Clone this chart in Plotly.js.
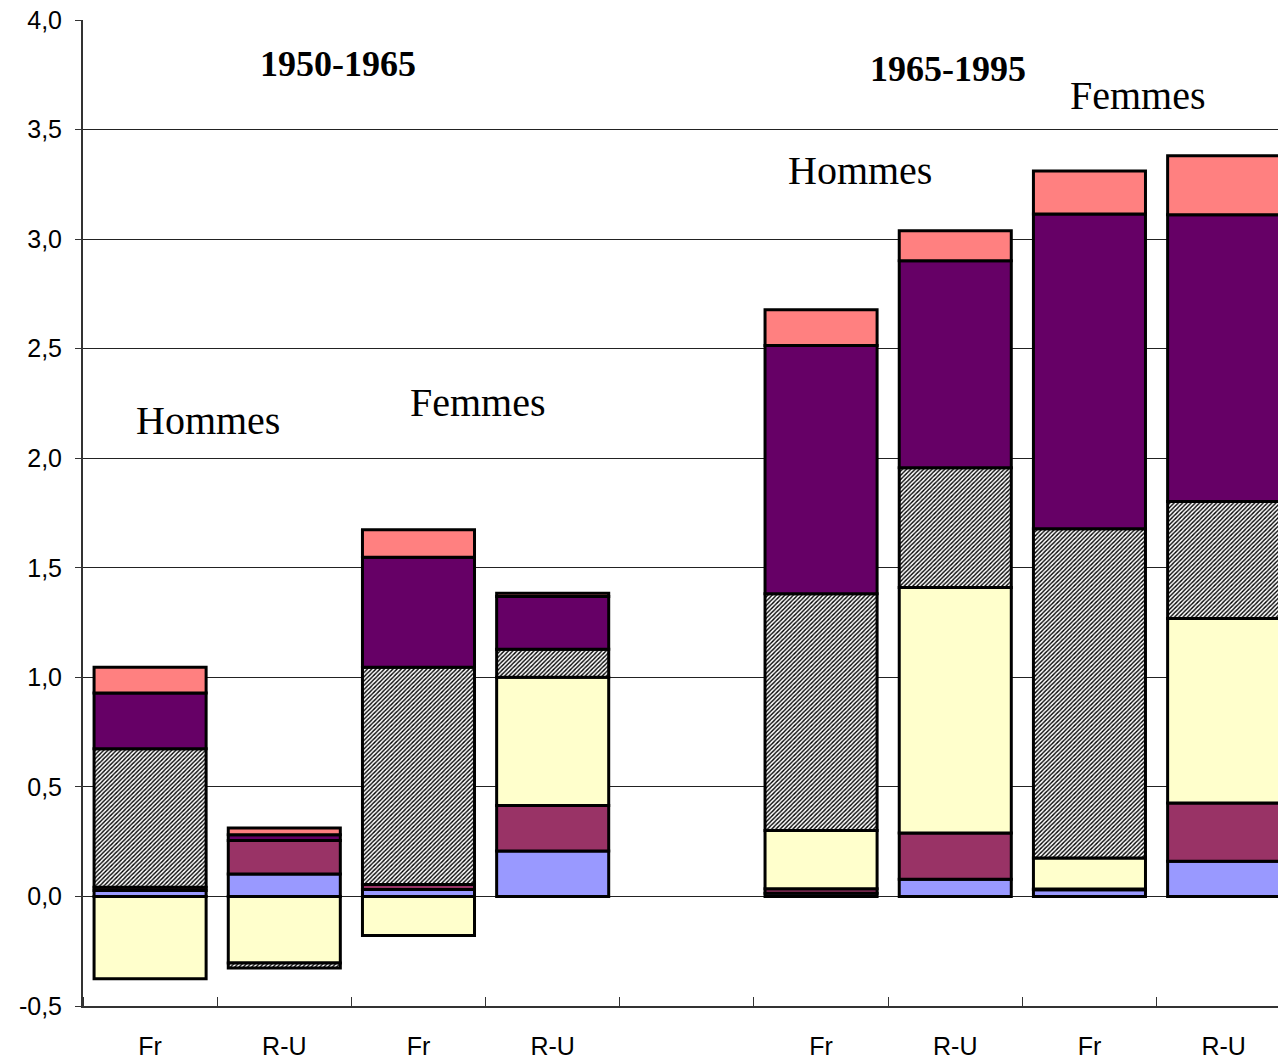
<!DOCTYPE html>
<html><head><meta charset="utf-8">
<script src="https://cdn.plot.ly/plotly-3.0.1.min.js"></script>
<style>html,body{margin:0;padding:0;background:#fff;overflow:hidden}</style>
</head><body>
<div id="chart" style="width:1278px;height:1060px"></div>
<script>
// Category slots (slot 4 is the empty gap between periods)
const slots = [0, 1, 2, 3, 5, 6, 7, 8];
const tickLabels = ["Fr", "R-U", "Fr", "R-U", "", "Fr", "R-U", "Fr", "R-U"];
const yTickVals = [-0.5, 0, 0.5, 1, 1.5, 2, 2.5, 3, 3.5, 4];
const yTickLabels = ["-0,5", "0,0", "0,5", "1,0", "1,5", "2,0", "2,5", "3,0", "3,5", "4,0"];
// Series values, one per bar: 1950-65 Hommes Fr, R-U, Femmes Fr, R-U; 1965-95 Hommes Fr, R-U, Femmes Fr, R-U
const blue    = [0.027, 0.103, 0.032, 0.207, 0.015, 0.078, 0.030, 0.161];
const maroon  = [0.015, 0.152, 0.023, 0.208, 0.020, 0.211, 0.004, 0.266];
const yellow  = [-0.376, -0.304, -0.178, 0.585, 0.266, 1.121, 0.142, 0.841];
const hatched = [0.632, -0.023, 0.991, 0.128, 1.081, 0.547, 1.502, 0.534];
const purple  = [0.255, 0.026, 0.502, 0.241, 1.132, 0.944, 1.437, 1.309];
const pink    = [0.117, 0.031, 0.126, 0.015, 0.164, 0.137, 0.196, 0.269];

const lineStyle = {color: '#000', width: 3};
function bar(y, color, extra) {
  const m = Object.assign({color: color, line: lineStyle}, extra || {});
  return {type: 'bar', x: slots, y: y, width: 0.835, marker: m, hoverinfo: 'y', showlegend: false};
}
const traces = [
  bar(blue, '#9999FF'),
  bar(maroon, '#993366'),
  bar(yellow, '#FFFFCC'),
  bar(hatched, '#FFFFFF', {pattern: {shape: '/', fgcolor: '#000', bgcolor: '#FFFFFF', size: 3, solidity: 0.45, fillmode: 'replace'}}),
  bar(purple, '#660066'),
  bar(pink, '#FF8080')
];

const serif = 'Liberation Serif, Times New Roman, serif';
const annText = [
  {t: '<b>1950-1965</b>', x: 1.40, y: 3.80, s: 36},
  {t: '<b>1965-1995</b>', x: 5.945, y: 3.777, s: 36},
  {t: 'Hommes', x: 0.43, y: 2.17, s: 40},
  {t: 'Femmes', x: 2.44, y: 2.254, s: 40},
  {t: 'Hommes', x: 5.29, y: 3.312, s: 40},
  {t: 'Femmes', x: 7.36, y: 3.654, s: 40}
];
const annotations = annText.map(a => ({
  text: a.t, x: a.x, y: a.y, xref: 'x', yref: 'y', showarrow: false,
  font: {family: serif, size: a.s, color: '#000'}, xanchor: 'center', yanchor: 'middle'
}));

const layout = {
  width: 1278, height: 1060,
  margin: {l: 83, r: 0, t: 20, b: 54, pad: 0},
  paper_bgcolor: '#fff', plot_bgcolor: '#fff',
  barmode: 'relative',
  font: {family: 'Liberation Sans, Arial, sans-serif', size: 25, color: '#000'},
  xaxis: {
    range: [-0.5, 8.405], tickmode: 'array', tickvals: [0,1,2,3,4,5,6,7,8], ticktext: tickLabels,
    ticks: '', showgrid: false, zeroline: false, showline: true, linecolor: '#333', linewidth: 2,
    ticklabelstandoff: 17, tickfont: {size: 25},
    minor: {tickmode: 'linear', tick0: 0.5, dtick: 1, ticks: 'inside', ticklen: 9, tickcolor: '#333', tickwidth: 1, showgrid: false}
  },
  yaxis: {
    range: [-0.5, 4.0], tickmode: 'array', tickvals: yTickVals, ticktext: yTickLabels,
    ticks: 'outside', ticklen: 6, tickcolor: '#333', tickwidth: 1,
    showgrid: true, gridcolor: '#222', gridwidth: 1, zeroline: false,
    showline: true, linecolor: '#333', linewidth: 2, ticklabelstandoff: 8, tickfont: {size: 25}
  },
  annotations: annotations
};
Plotly.newPlot('chart', traces, layout, {displayModeBar: false, staticPlot: true});
</script>
</body></html>
